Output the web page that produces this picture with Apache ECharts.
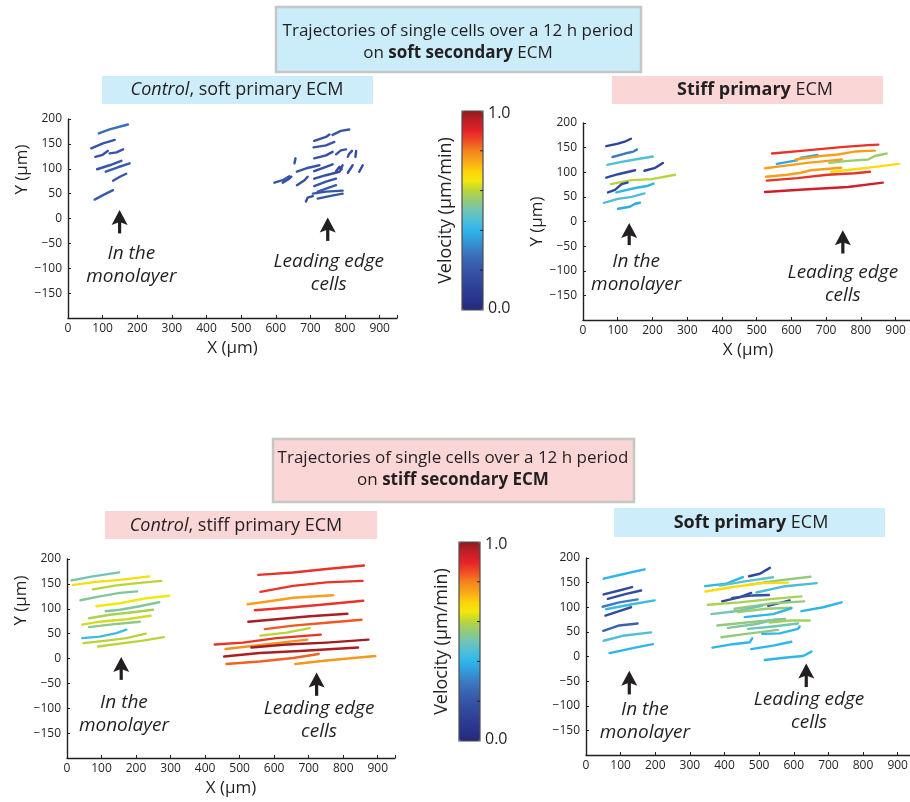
<!DOCTYPE html>
<html><head><meta charset="utf-8">
<script src="https://cdn.jsdelivr.net/npm/echarts@6/dist/echarts.min.js"></script>
<style>html,body{margin:0;padding:0;background:#fff}#c{width:910px;height:802px}</style>
</head><body><div id="c"></div><script>
// ---------- colour scale (velocity 0..1, µm/min) ----------
const velColors = ['#24297a','#28338a','#2c3d93','#31499c','#3655a5','#3966b2','#3a7cc2','#3399d8','#2db6ea','#4fbfd6','#72c5b5','#94ca7a','#b9d43a','#f2e80c','#fed00a','#f9a51a','#f5821f','#ef4d24','#e5212a','#c01f26','#8c1c1f'];
const xTicks = [0,100,200,300,400,500,600,700,800,900];
const yTicks = [-150,-100,-50,0,50,100,150,200];
const noteTexts = ['In the\nmonolayer', 'Leading edge\ncells'];

// ---------- Panel 1: soft secondary ECM, Control (soft primary) ----------
const p1Tracks = [
 [[89,171],[120,179],[173,189]], [[67,141],[101,151],[135,158]], [[79,124],[100,128],[115,136]], [[120,131],[140,133],[159,139]],
 [[84,99],[120,107],[154,116]], [[109,94],[144,103],[178,111]], [[130,76],[150,84],[168,90]], [[77,38],[101,47],[130,57]],
 [[711,156],[745,164],[755,169]], [[764,168],[788,176],[812,179]], [[709,143],[745,147],[769,154]], [[711,121],[745,127],[764,134]],
 [[774,129],[788,137],[803,139]], [[808,124],[812,130],[820,136]], [[830,124],[832,136]], [[654,111],[657,121]],
 [[661,94],[688,101],[726,107]], [[711,95],[745,104],[764,109]], [[711,80],[745,87],[784,94],[793,107]], [[774,95],[784,104],[790,99]],
 [[808,92],[822,107]], [[841,94],[851,107]], [[596,72],[620,77],[639,85]], [[620,72],[639,80],[645,84]],
 [[661,67],[683,77],[692,84]], [[711,65],[745,74],[774,80]], [[721,54],[745,60],[774,67]], [[707,50],[745,54],[793,56]],
 [[687,34],[692,42],[707,45]], [[721,40],[755,45],[793,50]]
];
const p1Vel = [0.27,0.2,0.18,0.2,0.2,0.22,0.2,0.22, 0.18,0.2,0.2,0.18,0.2,0.18,0.16,0.18,0.2,0.18,0.18,0.16,0.18,0.16,0.2,0.18,0.18,0.2,0.22,0.2,0.18,0.2];
const p1Arrows = [[149,17,-30],[750,2,-45]];
const p1Notes = [[183,-93,0],[753,-110,1]];

// ---------- Panel 2: soft secondary ECM, Stiff primary ----------
const p2Tracks = [
 [[67,153],[101,158],[120,162],[138,168]], [[85,131],[121,138],[145,142],[155,146]], [[70,115],[111,121],[150,126],[201,132]],
 [[67,89],[101,96],[150,104]], [[177,103],[208,109],[230,119]], [[80,76],[140,84],[198,86],[265,95]],
 [[72,59],[92,64],[111,76],[128,79]], [[96,59],[150,68],[184,72],[203,77]], [[60,38],[101,46],[140,50],[177,57]],
 [[101,26],[135,30],[150,36],[164,38]],
 [[544,138],[636,144],[743,151],[821,155],[850,156]], [[558,117],[590,121],[616,124]], [[626,129],[650,132],[675,135]],
 [[612,126],[685,133],[734,136],[782,142],[840,144]], [[524,108],[578,113],[646,119],[704,123],[745,126]],
 [[709,119],[763,123],[821,126],[840,133],[874,138]], [[527,91],[588,95],[627,99],[656,104],[743,109]],
 [[714,101],[782,106],[840,111],[909,117]], [[529,83],[617,88],[704,95],[782,98],[826,101]], [[524,60],[636,65],[763,70],[863,79]]
];
const p2Vel = [0.12,0.3,0.45,0.15,0.12,0.6,0.15,0.4,0.45,0.38, 0.88,0.37,0.37,0.76,0.76,0.56,0.76,0.67,0.88,0.93];
const p2Arrows = [[133,-3,-48],[748,-18,-65]];
const p2Notes = [[153,-104,0],[748,-128,1]];

// ---------- Panel 3: stiff secondary ECM, Control (stiff primary) ----------
const p3Tracks = [
 [[13,157],[75,165],[151,173]], [[17,148],[85,154],[153,158],[238,165]], [[75,139],[143,147],[211,152],[273,156]],
 [[39,117],[95,125],[153,132],[203,135]], [[85,105],[153,111],[230,121],[296,126]], [[112,95],[153,98],[211,105],[267,113]],
 [[64,81],[124,88],[191,93],[249,98]], [[44,68],[95,74],[172,79],[242,86]], [[64,63],[124,68],[211,74]],
 [[44,41],[95,44],[143,51],[172,58]], [[48,31],[114,36],[172,41],[228,50]], [[90,24],[153,30],[220,36],[280,43]],
 [[554,168],[655,173],[752,180],[860,187]], [[560,134],[655,146],[752,153],[856,156]], [[523,109],[597,116],[655,122],[771,127]],
 [[544,97],[655,103],[752,109],[858,116]], [[525,74],[607,79],[703,85],[812,90]], [[573,59],[655,66],[752,72],[853,78]],
 [[560,46],[636,52],[703,61]], [[428,28],[510,32],[607,41],[735,48]], [[459,19],[510,23],[607,31],[696,38]],
 [[534,22],[636,28],[752,32],[873,38]], [[455,4],[558,11],[674,15],[843,22]], [[462,-11],[558,-6],[655,1],[729,9]],
 [[661,-11],[752,-4],[893,5]]
];
const p3Vel = [0.5,0.67,0.6,0.52,0.65,0.52,0.58,0.62,0.54,0.43,0.6,0.6, 0.88,0.88,0.76,0.88,0.97,0.84,0.6,0.88,0.78,0.98,0.97,0.83,0.77];
const p3Arrows = [[157,3,-43],[723,-28,-75]];
const p3Notes = [[165,-112,0],[730,-124,1]];

// ---------- Panel 4: stiff secondary ECM, Soft primary ----------
const p4Tracks = [
 [[51,158],[106,167],[169,177]], [[51,126],[96,134],[133,141]], [[63,117],[116,127],[159,134]], [[48,101],[96,110],[149,116]],
 [[58,96],[125,105],[198,114]], [[56,83],[96,92],[130,100]], [[50,52],[96,63],[149,67]], [[51,32],[106,42],[188,49]],
 [[68,7],[135,17],[193,25]],
 [[465,145],[540,153],[648,162]], [[471,163],[502,168],[531,180]], [[344,143],[405,148],[453,161]], [[386,144],[463,153],[540,161]],
 [[345,132],[424,141],[511,149],[583,150]], [[492,130],[569,142],[666,149]], [[393,112],[443,120],[477,129]], [[422,119],[482,124],[528,125]],
 [[352,105],[443,110],[540,117],[622,122]], [[526,103],[555,108],[588,114]], [[429,97],[492,103],[540,108],[630,112]],
 [[362,86],[443,93],[509,103]], [[439,90],[521,97],[593,99]], [[458,80],[540,86],[593,98]], [[622,92],[685,100],[738,110]],
 [[379,63],[463,69],[574,76]], [[410,58],[492,66],[540,74],[574,76]], [[530,69],[588,73],[646,73]], [[468,56],[540,61],[612,67]],
 [[391,39],[463,46],[554,54]], [[509,46],[559,47],[612,56],[617,61]], [[365,18],[424,25],[473,29],[480,37]],
 [[477,15],[540,22],[593,30]], [[516,-7],[579,-2],[627,1],[651,10]]
];
const p4Vel = [0.4,0.16,0.16,0.3,0.42,0.16,0.24,0.45,0.4, 0.55,0.14,0.4,0.47,0.67,0.44,0.15,0.18,0.58,0.17,0.55,0.5,0.56,0.4,0.4,0.55,0.52,0.57,0.5,0.55,0.4,0.4,0.4,0.4];
const p4Arrows = [[125,-29,-77],[636,-14,-62]];
const p4Notes = [[170,-131,0],[644,-111,1]];

// ---------- build ----------
const INK = '#231f20';
const FONT = 'Open Sans';
const grids = [
 {left:68, top:119, width:329, height:199},
 {left:583, top:123, width:330, height:197},
 {left:67, top:559, width:328, height:199},
 {left:586, top:558, width:329, height:197}
].map(g => Object.assign({outerBoundsMode:'none', containLabel:false}, g));

function xAx(i, named) {
  return {gridIndex:i, type:'value', min:0, max:950, interval:100,
    axisLine:{onZero:false, lineStyle:{color:INK, width:1.4}},
    axisTick:{inside:true, length:3, lineStyle:{color:INK}},
    axisLabel:{color:INK, fontSize:12, fontFamily:FONT, margin:5, formatter:v => xTicks.includes(v) ? String(v) : ''},
    splitLine:{show:false},
    name: named ? 'X (µm)' : '', nameLocation:'middle', nameGap:22,
    nameTextStyle:{fontSize:17, color:INK, fontFamily:FONT}};
}
function yAx(i, named, shift) {
  return {gridIndex:i, type:'value', min:-200, max:200, interval:50,
    axisLine:{show:true, onZero:false, lineStyle:{color:INK, width:1.4}},
    axisTick:{show:true, inside:true, length:3, lineStyle:{color:INK}},
    axisLabel:{color:INK, fontSize:12, fontFamily:FONT, margin:6, formatter:v => yTicks.includes(v) ? String(v).replace('-', '\u2212') : ''},
    splitLine:{show:false},
    name: named ? 'Y (µm)' : '', nameLocation:'middle', nameGap:32,
    nameTextStyle:{fontSize:17, color:INK, fontFamily:FONT, padding:[0,0,0,shift||0]}};
}

function trackSeries(i, tracks, vel) {
  return {type:'custom', xAxisIndex:i, yAxisIndex:i, silent:true,
    dimensions:['x','y','v','idx'], encode:{x:0, y:1},
    data: tracks.map((t, k) => [t[0][0], t[0][1], vel[k], k]),
    renderItem: (params, api) => {
      const pts = tracks[api.value(3)].map(p => api.coord(p));
      return {type:'polyline', shape:{points:pts},
        style:{stroke:api.visual('color'), lineWidth:2.4, fill:null, lineCap:'round', lineJoin:'round'}};
    }};
}
function arrowSeries(i, arrows) {
  return {type:'custom', xAxisIndex:i, yAxisIndex:i, silent:true,
    dimensions:['x','tip','base'], encode:{x:0, y:1}, data: arrows,
    renderItem: (params, api) => {
      const t = api.coord([api.value(0), api.value(1)]);
      const b = api.coord([api.value(0), api.value(2)]);
      return {type:'group', children:[
        {type:'line', shape:{x1:b[0], y1:b[1], x2:t[0], y2:t[1]+10}, style:{stroke:INK, lineWidth:3.2}},
        {type:'polygon', shape:{points:[[t[0], t[1]], [t[0]-8, t[1]+15], [t[0], t[1]+12], [t[0]+8, t[1]+15]]}, style:{fill:INK}}
      ]};
    }};
}
function noteSeries(i, notes) {
  return {type:'custom', xAxisIndex:i, yAxisIndex:i, silent:true,
    dimensions:['x','y','t'], encode:{x:0, y:1}, data: notes,
    renderItem: (params, api) => {
      const p = api.coord([api.value(0), api.value(1)]);
      return {type:'text', x:p[0], y:p[1],
        style:{text:noteTexts[api.value(2)], fill:INK, fontSize:19, fontStyle:'italic', fontFamily:FONT,
          align:'center', verticalAlign:'middle', lineHeight:23}};
    }};
}

const series = [
  trackSeries(0, p1Tracks, p1Vel), arrowSeries(0, p1Arrows), noteSeries(0, p1Notes),
  trackSeries(1, p2Tracks, p2Vel), arrowSeries(1, p2Arrows), noteSeries(1, p2Notes),
  trackSeries(2, p3Tracks, p3Vel), arrowSeries(2, p3Arrows), noteSeries(2, p3Notes),
  trackSeries(3, p4Tracks, p4Vel), arrowSeries(3, p4Arrows), noteSeries(3, p4Notes)
];

const vmBase = {type:'continuous', min:0, max:1, dimension:2, orient:'vertical', itemWidth:21, itemHeight:199,
  calculable:false, text:null, padding:0, hoverLink:false, inRange:{color:velColors}};
const cb = [{x:462, y:111, h:199}, {x:459, y:542, h:199}];

function titleBox(x, y, w, h, fill, cx, cy, rich2) {
  return [
    {type:'rect', shape:{x, y, width:w, height:h}, style:{fill, stroke:'#c6c6c6', lineWidth:2.5}, z:10},
    {type:'text', x:cx, y:cy, z:11, style:{text:'Trajectories of single cells over a 12 h period\n' + rich2,
      fill:INK, fontSize:17, fontFamily:FONT, align:'center', verticalAlign:'middle', lineHeight:22,
      rich:{n:{fontSize:17, fontFamily:FONT, fill:INK}, b:{fontSize:17, fontWeight:'bold', fontFamily:FONT, fill:INK}}}}
  ];
}
function subBox(x, y, w, h, fill, cx, cy, text) {
  return [
    {type:'rect', shape:{x, y, width:w, height:h}, style:{fill}, z:10},
    {type:'text', x:cx, y:cy, z:11, style:{text, fill:INK, fontSize:18, fontFamily:FONT, align:'center', verticalAlign:'middle',
      rich:{i:{fontSize:18, fontStyle:'italic', fontFamily:FONT, fill:INK}, n:{fontSize:18, fontFamily:FONT, fill:INK},
            b:{fontSize:18, fontWeight:'bold', fontFamily:FONT, fill:INK}}}}
  ];
}
function colorbarDeco(c, labelX, nameX) {
  const els = [
    {type:'rect', shape:{x:c.x, y:c.y, width:21, height:c.h}, style:{fill:null, stroke:'#4d4d4f', lineWidth:1.2}, z:12},
    {type:'text', x:labelX, y:c.y+2, z:12, style:{text:'1.0', fill:INK, fontSize:16, fontFamily:FONT, align:'left', verticalAlign:'middle'}},
    {type:'text', x:labelX, y:c.y+c.h-2, z:12, style:{text:'0.0', fill:INK, fontSize:16, fontFamily:FONT, align:'left', verticalAlign:'middle'}},
    {type:'text', x:nameX, y:c.y+c.h/2, rotation:Math.PI/2, z:12, style:{text:'Velocity (µm/min)', fill:INK, fontSize:18, fontFamily:FONT, align:'center', verticalAlign:'middle'}}
  ];
  [0.2,0.4,0.6,0.8].forEach(v => {
    const yy = c.y + (1-v)*c.h;
    els.push({type:'line', shape:{x1:c.x+18, y1:yy, x2:c.x+21, y2:yy}, style:{stroke:INK, lineWidth:1}, z:12});
  });
  return els;
}

const graphic = [].concat(
  titleBox(276, 7, 365, 65, '#caedf9', 458, 42, '{n|on }{b|soft secondary}{n| ECM}'),
  subBox(102, 76, 271, 28, '#ccedf9', 237, 90, '{i|Control}{n|, soft primary ECM}'),
  subBox(612, 76, 271, 28, '#fad6d6', 755, 90, '{b|Stiff primary}{n| ECM}'),
  titleBox(273, 439, 361, 63, '#fad6d6', 453, 469, '{n|on }{b|stiff secondary ECM}'),
  subBox(105, 511, 272, 28, '#fad6d6', 236, 526, '{i|Control}{n|, stiff primary ECM}'),
  subBox(614, 508, 271, 29, '#ccedf9', 751, 523, '{b|Soft primary}{n| ECM}'),
  colorbarDeco(cb[0], 488, 446),
  colorbarDeco(cb[1], 485, 442)
);

const chart = echarts.init(document.getElementById('c'), null, {renderer:'canvas'});
chart.setOption({
  animation:false,
  textStyle:{fontFamily:FONT},
  grid: grids,
  xAxis: [xAx(0,true), xAx(1,true), xAx(2,true), xAx(3,false)],
  yAxis: [yAx(0,true,98), yAx(1,true,0), yAx(2,true,116), yAx(3,false,0)],
  visualMap: [
    Object.assign({}, vmBase, {seriesIndex:[0,3], left:cb[0].x, top:cb[0].y}),
    Object.assign({}, vmBase, {seriesIndex:[6,9], left:cb[1].x, top:cb[1].y})
  ],
  graphic: graphic,
  series: series
});
</script></body></html>
